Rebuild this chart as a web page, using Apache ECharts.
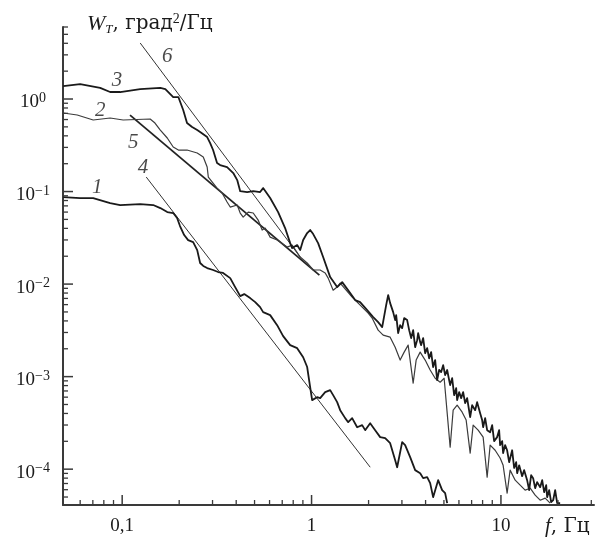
<!DOCTYPE html>
<html><head><meta charset="utf-8">
<script src="https://cdn.jsdelivr.net/npm/echarts@6/dist/echarts.min.js"></script>
<style>html,body{margin:0;padding:0;background:#fff;}#c{width:596px;height:540px;}</style>
</head><body><div id="c"></div>
<script>
const X_MIN = 0.0487, X_MAX = 31, Y_MIN = 4.1e-5, Y_MAX = 6;

// curve 1
const freq1 = [0.0488,0.060,0.0703,0.0864,0.0976,0.1245,0.1458,0.159,0.173,0.186,0.195,0.202,0.2125,0.223,0.237,0.249,0.258,0.268,0.281,0.302,0.321,0.341,0.372,0.395,0.420,0.441,0.474,0.504,0.535,0.555,0.6045,0.658,0.708,0.771,0.8395,0.903,0.948,0.983,1.007,1.07,1.11,1.18,1.254,1.30,1.365,1.416,1.505,1.561,1.638,1.741,1.85,1.919,2.039,2.167,2.303,2.447,2.60,2.764,2.831,3.009,3.12,3.316,3.524,3.745,3.884,4.078,4.229,4.385,4.66,4.893,5.074,5.20];
const psd1 = [0.0872,0.0851,0.0851,0.0751,0.0715,0.0733,0.0715,0.0663,0.060,0.0586,0.0517,0.0424,0.0339,0.0299,0.0284,0.0233,0.0169,0.0157,0.0149,0.0142,0.0135,0.0132,0.0116,0.00928,0.00742,0.0078,0.00706,0.00639,0.00564,0.00498,0.00462,0.0036,0.00274,0.00219,0.00203,0.00162,0.00127,0.00077,0.000557,0.0006,0.000586,0.00068,0.000715,0.000631,0.00053,0.000434,0.000356,0.000322,0.000356,0.000284,0.000299,0.000264,0.000314,0.000264,0.000222,0.000216,0.000191,0.000125,0.000105,0.000196,0.000182,0.000135,0.0000976,0.0000905,0.00008,0.000082,0.0000706,0.0000498,0.000076,0.0000593,0.000055,0.0000429];

// curve 2
const freq2 = [0.0488,0.0579,0.0703,0.0864,0.1012,0.1405,0.149,0.159,0.173,0.186,0.198,0.220,0.249,0.268,0.281,0.285,0.302,0.317,0.337,0.358,0.372,0.405,0.420,0.4355,0.463,0.492,0.5225,0.5485,0.569,0.6045,0.658,0.743,0.790,0.871,0.948,1.02,1.11,1.18,1.224,1.30,1.365,1.416,1.523,1.638,1.762,1.873,1.99,2.089,2.247,2.388,2.60,2.764,2.936,3.083,3.236,3.439,3.567,3.745,3.98,4.229,4.494,4.775,5.013,5.393,5.593,5.872,6.241,6.551,6.878,7.132,7.579,8.054,8.455,8.77,9.32,9.90,10.27,10.78,11.18,11.89,12.63,13.42,14.27,15.16,16.11,17.12,18.19];
const psd2 = [0.706,0.672,0.593,0.623,0.593,0.608,0.55,0.462,0.379,0.303,0.281,0.281,0.261,0.236,0.184,0.1435,0.1235,0.109,0.0963,0.077,0.068,0.0715,0.0586,0.053,0.060,0.0586,0.0492,0.0384,0.0403,0.0322,0.0299,0.0251,0.0264,0.0196,0.0169,0.0142,0.0142,0.0132,0.0116,0.0086,0.00928,0.01025,0.0086,0.00724,0.00623,0.0055,0.00486,0.00429,0.00318,0.00281,0.00267,0.00208,0.00151,0.00184,0.00219,0.00085,0.00151,0.00184,0.00151,0.00118,0.00096,0.00087,0.00096,0.000173,0.000434,0.000492,0.000413,0.000339,0.000149,0.000299,0.000264,0.000222,0.000082,0.000182,0.00016,0.000132,0.00011,0.000055,0.0000976,0.000076,0.0000672,0.0000593,0.0000623,0.0000524,0.0000462,0.0000486,0.0000429];

// curve 3
const freq3 = [0.0488,0.060,0.0765,0.0864,0.0976,0.1245,0.159,0.169,0.186,0.198,0.210,0.220,0.234,0.249,0.258,0.281,0.2915,0.302,0.317,0.329,0.358,0.386,0.405,0.420,0.457,0.492,0.535,0.555,0.6045,0.666,0.725,0.771,0.790,0.8395,0.871,0.903,0.948,0.983,1.02,1.083,1.151,1.254,1.365,1.451,1.599,1.699,1.805,1.966,2.115,2.247,2.36,2.477,
  2.538,2.60,2.697,2.764,2.797,2.866,2.936,3.009,3.083,3.197,3.276,3.357,3.439,3.524,3.611,3.655,3.745,3.791,3.884,3.98,4.078,4.178,4.28,4.385,4.494,4.604,4.717,4.834,4.953,5.074,5.20,5.327,5.393,5.525,5.661,5.801,5.872,6.016,6.166,6.316,6.471,6.63,6.878,7.046,7.308,7.486,7.766,7.956,8.054,8.253,8.455,8.77,8.985,9.207,9.548,9.78,9.90,10.15,10.27,10.52,10.78,11.05,11.18,11.46,11.74,12.03,12.18,12.48,12.94,13.26,13.75,14.09,14.44,14.79,15.16,15.53,16.11,16.51,16.91,17.33,17.54,17.97,18.41,18.87,19.33,19.81,20.54];
const psd3 = [1.38,1.45,1.32,1.19,1.19,1.28,1.32,1.28,1.05,1.05,0.76,0.55,0.498,0.462,0.44,0.388,0.334,0.281,0.203,0.193,0.184,0.1585,0.133,0.101,0.0988,0.101,0.0988,0.109,0.0851,0.060,0.0403,0.0277,0.0245,0.0264,0.0233,0.0299,0.0356,0.0384,0.0347,0.0277,0.0196,0.0119,0.00928,0.0105,0.0080,0.00672,0.00639,0.00524,0.0044,0.00388,0.00343,0.00593,
  0.00761,0.00623,0.00498,0.00408,0.00462,0.00295,0.0036,0.00334,0.00429,0.00408,0.00318,0.00261,0.00318,0.00208,0.00248,0.00295,0.00236,0.00219,0.00261,0.00179,0.00203,0.00158,0.00184,0.00127,0.00151,0.000917,0.00118,0.00112,0.00133,0.00104,0.00118,0.000917,0.00081,0.000963,0.00063,0.00075,0.000557,0.00068,0.000586,0.00068,0.000517,0.000586,0.000365,0.000492,0.000434,0.00053,0.000403,0.000339,0.000284,0.000356,0.000264,0.000251,0.000299,0.000201,0.000222,0.000264,0.000182,0.000201,0.000149,0.000182,0.00016,0.000119,0.000125,0.00016,0.000103,0.000119,0.0000905,0.00011,0.000084,0.0000976,0.000076,0.0000593,0.0000861,0.00008,0.0000623,0.0000724,0.0000639,0.000076,0.0000564,0.0000672,0.0000498,0.0000593,0.000044,0.0000462,0.0000593,0.0000429,0.0000429];

// straight reference lines 4, 5, 6
const line4F = [0.134, 2.04],  line4W = [0.1435, 0.000105];
const line5F = [0.11, 1.1],    line5W = [0.67, 0.0125];
const line6F = [0.1245, 0.871], line6W = [4.03, 0.0196];

// ticks
const xMajorTicks = [0.1, 1, 10];
const xMinorTicks = [0.06,0.07,0.08,0.09,0.2,0.3,0.4,0.5,0.6,0.7,0.8,0.9,2,3,4,5,6,7,8,9,20,30];
const yMajorTicks = [1e-4, 1e-3, 1e-2, 1e-1, 1];
const yMinorTicks = [5e-5,6e-5,7e-5,8e-5,9e-5,
  2e-4,3e-4,4e-4,5e-4,6e-4,7e-4,8e-4,9e-4,
  2e-3,3e-3,4e-3,5e-3,6e-3,7e-3,8e-3,9e-3,
  2e-2,3e-2,4e-2,5e-2,6e-2,7e-2,8e-2,9e-2,
  0.2,0.3,0.4,0.5,0.6,0.7,0.8,0.9,2,3,4,5,6];
const xTickExps = [-1, 0, 1];
const xTickTexts = ['0,1', '1', '10'];

// curve number labels
const curveNames = ['1','2','3','4','5','6'];
const curveNameF = [0.0738, 0.0765, 0.094, 0.129, 0.1143, 0.173];
const curveNameW = [0.112, 0.76, 1.605, 0.184, 0.343, 2.85];

const SERIF = '"Liberation Serif","DejaVu Serif",serif';
const CYR = '"DejaVu Serif","Liberation Serif",serif';
const INK = '#1a1a1a';
const zip = (a, b) => a.map((v, i) => [v, b[i]]);

function tickSeries(values, isX, len, width) {
  return {
    type: 'custom', coordinateSystem: 'cartesian2d', silent: true, z: 6,
    data: values.map(v => isX ? [v, Y_MIN] : [X_MIN, v]),
    renderItem: function (params, api) {
      const p = api.coord([api.value(0), api.value(1)]);
      return {
        type: 'line',
        shape: isX ? {x1: p[0], y1: p[1], x2: p[0], y2: p[1] - len}
                   : {x1: p[0], y1: p[1], x2: p[0] + len, y2: p[1]},
        style: {stroke: '#3a3a3a', lineWidth: width}
      };
    }
  };
}

function lineSeries(data, width, color) {
  return {
    type: 'line', data: data, symbol: 'none', silent: true, animation: false,
    lineStyle: {width: width, color: color, join: 'round'}, z: 3
  };
}

const chart = echarts.init(document.getElementById('c'), null, {renderer: 'canvas'});
chart.setOption({
  animation: false,
  backgroundColor: '#fff',
  grid: {left: 63, top: 27, right: 2, bottom: 35, containLabel: false},
  xAxis: {
    type: 'log', logBase: 10, min: X_MIN, max: X_MAX,
    splitLine: {show: false}, axisTick: {show: false}, minorTick: {show: false},
    axisLine: {lineStyle: {color: '#3a3a3a', width: 2}},
    axisLabel: {
      showMinLabel: false, showMaxLabel: false, margin: 12,
      fontFamily: SERIF, fontSize: 19, color: INK,
      formatter: function (v) {
        const l = Math.log10(v), e = Math.round(l);
        if (Math.abs(l - e) > 1e-6) return '';
        const k = xTickExps.indexOf(e);
        return k >= 0 ? xTickTexts[k] : '';
      }
    }
  },
  yAxis: {
    type: 'log', logBase: 10, min: Y_MIN, max: Y_MAX,
    splitLine: {show: false}, axisTick: {show: false}, minorTick: {show: false},
    axisLine: {lineStyle: {color: '#3a3a3a', width: 2}},
    axisLabel: {
      showMinLabel: false, showMaxLabel: false, margin: 30, align: 'center',
      padding: [7, 0, 0, 0],
      formatter: function (v) {
        const l = Math.log10(v), e = Math.round(l);
        if (Math.abs(l - e) > 1e-6) return '';
        return '{b|10}{s|' + (e < 0 ? '\u2212' : '') + Math.abs(e) + '}';
      },
      rich: {
        b: {fontFamily: SERIF, fontSize: 19, color: INK, lineHeight: 22},
        s: {fontFamily: SERIF, fontSize: 14, color: INK, lineHeight: 14, verticalAlign: 'top'}
      }
    }
  },
  graphic: [
    {
      type: 'text', left: 87, top: 12, silent: true,
      style: {
        text: '{i|W}{sub|T}{n|, град}{sup|2}{n|/Гц}',
        rich: {
          i: {fontFamily: SERIF, fontStyle: 'italic', fontSize: 22, fill: INK, lineHeight: 24},
          sub: {fontFamily: SERIF, fontStyle: 'italic', fontSize: 13, fill: INK, lineHeight: 18, verticalAlign: 'bottom'},
          n: {fontFamily: CYR, fontSize: 20, fill: INK, lineHeight: 24},
          sup: {fontFamily: SERIF, fontSize: 14, fill: INK, lineHeight: 16, verticalAlign: 'top'}
        }
      }
    },
    {
      type: 'text', left: 545, top: 516, silent: true,
      style: {
        text: '{i|f}{n|, Гц}',
        rich: {
          i: {fontFamily: SERIF, fontStyle: 'italic', fontSize: 21, fill: INK, lineHeight: 22},
          n: {fontFamily: CYR, fontSize: 20, fill: INK, lineHeight: 22}
        }
      }
    }
  ],
  series: [
    lineSeries(zip(line4F, line4W), 1, '#333'),
    lineSeries(zip(line6F, line6W), 1, '#333'),
    lineSeries(zip(line5F, line5W), 1.8, '#222'),
    lineSeries(zip(freq2, psd2), 1.2, '#3c3c3c'),
    lineSeries(zip(freq1, psd1), 1.8, '#1a1a1a'),
    lineSeries(zip(freq3, psd3), 1.8, '#1a1a1a'),
    tickSeries(xMajorTicks, true, 10, 1.5),
    tickSeries(xMinorTicks, true, 5, 1.3),
    tickSeries(yMajorTicks, false, 10, 1.5),
    tickSeries(yMinorTicks, false, 5, 1.3),
    {
      type: 'scatter', silent: true, symbolSize: 0, z: 7,
      data: curveNames.map((n, i) => ({name: n, value: [curveNameF[i], curveNameW[i]]})),
      label: {
        show: true, position: 'inside', formatter: p => p.name,
        fontFamily: SERIF, fontStyle: 'italic', fontSize: 21, color: INK
      }
    }
  ]
});
</script></body></html>
